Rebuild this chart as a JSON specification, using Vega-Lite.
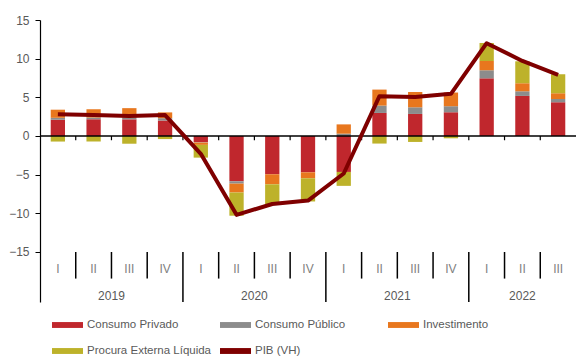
{
  "$schema": "https://vega.github.io/schema/vega-lite/v6.json",
  "width": 536,
  "height": 282,
  "autosize": {"type": "none"},
  "padding": {"left": 40, "top": 20, "right": 0, "bottom": 56},
  "config": {"view": {"stroke": null}, "font": "Liberation Sans"},
  "datasets": {
    "contrib": [
      {"q": "2019-1", "component": "Consumo Privado", "value": 2.1},
      {"q": "2019-1", "component": "Consumo Público", "value": 0.25},
      {"q": "2019-1", "component": "Investimento", "value": 1.05},
      {"q": "2019-1", "component": "Procura Externa Líquida", "value": -0.72},
      {"q": "2019-2", "component": "Consumo Privado", "value": 2.15},
      {"q": "2019-2", "component": "Consumo Público", "value": 0.25},
      {"q": "2019-2", "component": "Investimento", "value": 1.05},
      {"q": "2019-2", "component": "Procura Externa Líquida", "value": -0.7},
      {"q": "2019-3", "component": "Consumo Privado", "value": 2.15},
      {"q": "2019-3", "component": "Consumo Público", "value": 0.25},
      {"q": "2019-3", "component": "Investimento", "value": 1.2},
      {"q": "2019-3", "component": "Procura Externa Líquida", "value": -1.0},
      {"q": "2019-4", "component": "Consumo Privado", "value": 2.0},
      {"q": "2019-4", "component": "Consumo Público", "value": 0.3},
      {"q": "2019-4", "component": "Investimento", "value": 0.75},
      {"q": "2019-4", "component": "Procura Externa Líquida", "value": -0.4},
      {"q": "2020-1", "component": "Consumo Privado", "value": -0.8},
      {"q": "2020-1", "component": "Consumo Público", "value": -0.05},
      {"q": "2020-1", "component": "Investimento", "value": -0.3},
      {"q": "2020-1", "component": "Procura Externa Líquida", "value": -1.65},
      {"q": "2020-2", "component": "Consumo Privado", "value": -5.86},
      {"q": "2020-2", "component": "Consumo Público", "value": -0.3},
      {"q": "2020-2", "component": "Investimento", "value": -1.15},
      {"q": "2020-2", "component": "Procura Externa Líquida", "value": -3.0},
      {"q": "2020-3", "component": "Consumo Privado", "value": -4.95},
      {"q": "2020-3", "component": "Consumo Público", "value": 0},
      {"q": "2020-3", "component": "Investimento", "value": -1.3},
      {"q": "2020-3", "component": "Procura Externa Líquida", "value": -2.55},
      {"q": "2020-4", "component": "Consumo Privado", "value": -4.7},
      {"q": "2020-4", "component": "Consumo Público", "value": 0},
      {"q": "2020-4", "component": "Investimento", "value": -0.77},
      {"q": "2020-4", "component": "Procura Externa Líquida", "value": -3.0},
      {"q": "2021-1", "component": "Consumo Privado", "value": -4.65},
      {"q": "2021-1", "component": "Consumo Público", "value": 0.3},
      {"q": "2021-1", "component": "Investimento", "value": 1.2},
      {"q": "2021-1", "component": "Procura Externa Líquida", "value": -1.8},
      {"q": "2021-2", "component": "Consumo Privado", "value": 2.98},
      {"q": "2021-2", "component": "Consumo Público", "value": 0.95},
      {"q": "2021-2", "component": "Investimento", "value": 2.07},
      {"q": "2021-2", "component": "Procura Externa Líquida", "value": -0.98},
      {"q": "2021-3", "component": "Consumo Privado", "value": 2.85},
      {"q": "2021-3", "component": "Consumo Público", "value": 0.86},
      {"q": "2021-3", "component": "Investimento", "value": 1.98},
      {"q": "2021-3", "component": "Procura Externa Líquida", "value": -0.77},
      {"q": "2021-4", "component": "Consumo Privado", "value": 3.07},
      {"q": "2021-4", "component": "Consumo Público", "value": 0.78},
      {"q": "2021-4", "component": "Investimento", "value": 1.77},
      {"q": "2021-4", "component": "Procura Externa Líquida", "value": -0.3},
      {"q": "2022-1", "component": "Consumo Privado", "value": 7.46},
      {"q": "2022-1", "component": "Consumo Público", "value": 1.04},
      {"q": "2022-1", "component": "Investimento", "value": 1.2},
      {"q": "2022-1", "component": "Procura Externa Líquida", "value": 2.33},
      {"q": "2022-2", "component": "Consumo Privado", "value": 5.18},
      {"q": "2022-2", "component": "Consumo Público", "value": 0.6},
      {"q": "2022-2", "component": "Investimento", "value": 1.04},
      {"q": "2022-2", "component": "Procura Externa Líquida", "value": 2.84},
      {"q": "2022-3", "component": "Consumo Privado", "value": 4.36},
      {"q": "2022-3", "component": "Consumo Público", "value": 0.43},
      {"q": "2022-3", "component": "Investimento", "value": 0.73},
      {"q": "2022-3", "component": "Procura Externa Líquida", "value": 2.46}
    ],
    "pib": [
      {"q": "2019-1", "label": "I", "pib": 2.8},
      {"q": "2019-2", "label": "II", "pib": 2.7},
      {"q": "2019-3", "label": "III", "pib": 2.6},
      {"q": "2019-4", "label": "IV", "pib": 2.7},
      {"q": "2020-1", "label": "I", "pib": -2.3},
      {"q": "2020-2", "label": "II", "pib": -10.2},
      {"q": "2020-3", "label": "III", "pib": -8.8},
      {"q": "2020-4", "label": "IV", "pib": -8.35},
      {"q": "2021-1", "label": "I", "pib": -4.85},
      {"q": "2021-2", "label": "II", "pib": 5.15},
      {"q": "2021-3", "label": "III", "pib": 5.05},
      {"q": "2021-4", "label": "IV", "pib": 5.45},
      {"q": "2022-1", "label": "I", "pib": 12.0},
      {"q": "2022-2", "label": "II", "pib": 9.7},
      {"q": "2022-3", "label": "III", "pib": 7.9}
    ],
    "bounds": [
      {"q": "2019-2", "kind": "quarter"},
      {"q": "2019-3", "kind": "quarter"},
      {"q": "2019-4", "kind": "quarter"},
      {"q": "2020-1", "kind": "year"},
      {"q": "2020-2", "kind": "quarter"},
      {"q": "2020-3", "kind": "quarter"},
      {"q": "2020-4", "kind": "quarter"},
      {"q": "2021-1", "kind": "year"},
      {"q": "2021-2", "kind": "quarter"},
      {"q": "2021-3", "kind": "quarter"},
      {"q": "2021-4", "kind": "quarter"},
      {"q": "2022-1", "kind": "year"},
      {"q": "2022-2", "kind": "quarter"},
      {"q": "2022-3", "kind": "quarter"}
    ],
    "years": [
      {"year": "2019", "q": "2019-3"},
      {"year": "2020", "q": "2020-3"},
      {"year": "2021", "q": "2021-3"},
      {"year": "2022", "q": "2022-2"}
    ]
  },
  "resolve": {"scale": {"color": "shared"}},
  "layer": [
    {
      "data": {"name": "contrib"},
      "mark": {"type": "bar", "width": {"band": 0.4}},
      "encoding": {
        "x": {"field": "q", "type": "ordinal", "scale": {"type": "band", "paddingInner": 0, "paddingOuter": 0}, "axis": null},
        "y": {"field": "value", "type": "quantitative", "stack": "zero",
          "scale": {"domain": [-21.47, 15], "nice": false, "zero": false},
          "axis": {"values": [-15, -10, -5, 0, 5, 10, 15], "title": null, "grid": false, "domainColor": "#000000", "domainWidth": 1.2, "tickColor": "#000000", "tickSize": 5, "labelPadding": 6, "labelFontSize": 12, "labelColor": "#595959"}},
        "order": {"field": "component", "type": "nominal", "sort": "ascending"},
        "color": {"field": "component", "type": "nominal",
          "scale": {"domain": ["Consumo Privado", "Consumo Público", "Investimento", "Procura Externa Líquida", "PIB (VH)"], "range": ["#C0272D", "#8C8C8C", "#E8771E", "#BDB22A", "#7F0000"]},
          "legend": {"orient": "none", "legendX": 12, "legendY": 289.5, "columns": 3, "direction": "horizontal", "title": null, "symbolType": "M-1,-0.19H1V0.19H-1Z", "symbolSize": 961, "gridAlign": "all", "columnPadding": 8, "rowPadding": 5, "labelFontSize": 11.5, "labelColor": "#595959", "labelOffset": 4, "symbolStrokeWidth": 0}}
      }
    },
    {
      "data": {"values": [{}]},
      "mark": {"type": "rule", "color": "#000000", "strokeWidth": 1.5},
      "encoding": {"y": {"datum": 0, "type": "quantitative"}}
    },
    {
      "data": {"name": "bounds"},
      "mark": {"type": "rule", "color": "#000000", "strokeWidth": 1.2},
      "encoding": {
        "x": {"field": "q", "type": "ordinal", "bandPosition": 0},
        "y": {"datum": 0, "type": "quantitative"},
        "y2": {"datum": -0.55}
      }
    },
    {
      "data": {"name": "bounds"},
      "transform": [{"filter": "datum.kind == 'quarter'"}],
      "mark": {"type": "rule", "color": "#000000", "strokeWidth": 1.5},
      "encoding": {
        "x": {"field": "q", "type": "ordinal", "bandPosition": 0},
        "y": {"datum": -15, "type": "quantitative"},
        "y2": {"datum": -18.44}
      }
    },
    {
      "data": {"name": "bounds"},
      "transform": [{"filter": "datum.kind == 'year'"}],
      "mark": {"type": "rule", "color": "#000000", "strokeWidth": 1.5},
      "encoding": {
        "x": {"field": "q", "type": "ordinal", "bandPosition": 0},
        "y": {"datum": -15, "type": "quantitative"},
        "y2": {"datum": -21.47}
      }
    },
    {
      "data": {"name": "pib"},
      "mark": {"type": "text", "fontSize": 12, "color": "#7F7F7F", "baseline": "middle"},
      "encoding": {
        "x": {"field": "q", "type": "ordinal"},
        "y": {"datum": -17.24, "type": "quantitative"},
        "text": {"field": "label"}
      }
    },
    {
      "data": {"name": "years"},
      "transform": [{"filter": "datum.year != '2022'"}],
      "mark": {"type": "text", "fontSize": 12, "color": "#595959", "baseline": "middle"},
      "encoding": {
        "x": {"field": "q", "type": "ordinal", "bandPosition": 0},
        "y": {"datum": -20.7, "type": "quantitative"},
        "text": {"field": "year"}
      }
    },
    {
      "data": {"name": "years"},
      "transform": [{"filter": "datum.year == '2022'"}],
      "mark": {"type": "text", "fontSize": 12, "color": "#595959", "baseline": "middle"},
      "encoding": {
        "x": {"field": "q", "type": "ordinal"},
        "y": {"datum": -20.7, "type": "quantitative"},
        "text": {"field": "year"}
      }
    },
    {
      "data": {"name": "pib"},
      "mark": {"type": "line", "strokeWidth": 4, "strokeJoin": "round"},
      "encoding": {
        "x": {"field": "q", "type": "ordinal"},
        "y": {"field": "pib", "type": "quantitative"},
        "color": {"datum": "PIB (VH)"}
      }
    }
  ]
}
